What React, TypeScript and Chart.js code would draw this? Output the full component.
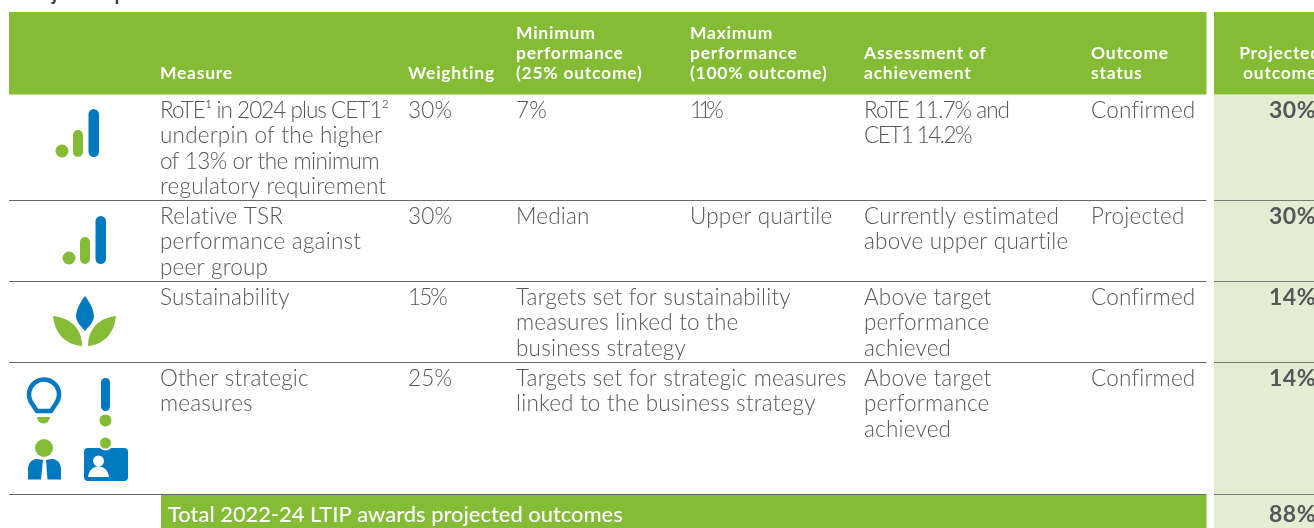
import React, { useEffect, useRef } from "react";
import { Chart, registerables } from "chart.js";

Chart.register(...registerables);

const title = "Projected performance outcome";
const headers = [
  ["Measure"],
  ["Weighting"],
  ["Minimum", "performance", "(25% outcome)"],
  ["Maximum", "performance", "(100% outcome)"],
  ["Assessment of", "achievement"],
  ["Outcome", "status"],
];
const outcomeHeader = ["Projected", "outcome"];
const measures = [
  ["RoTE¹ in 2024 plus CET1²", "underpin of the higher", "of 13% or the minimum", "regulatory requirement"],
  ["Relative TSR", "performance against", "peer group"],
  ["Sustainability"],
  ["Other strategic", "measures"],
];
const weightings = ["30%", "30%", "15%", "25%"];
const minimums = [["7%"], ["Median"], ["Targets set for sustainability", "measures linked to the", "business strategy"], ["Targets set for strategic measures", "linked to the business strategy"]];
const maximums = [["11%"], ["Upper quartile"], [], []];
const assessments = [
  ["RoTE 11.7% and", "CET1 14.2%"],
  ["Currently estimated", "above upper quartile"],
  ["Above target", "performance", "achieved"],
  ["Above target", "performance", "achieved"],
];
const statuses = ["Confirmed", "Projected", "Confirmed", "Confirmed"];
const outcomes = ["30%", "30%", "14%", "14%"];
const totalLabel = "Total 2022-24 LTIP awards projected outcomes";
const totalOutcome = "88%";

const GREEN = "#84bd35";
const BLUE = "#0079c1";
const PALE = "#e3edd2";
const GREY = "#53585b";
const FONT = "Lato";

const colX = [160, 408, 516, 690, 864, 1091];
const bodyBase = [117.5, 223.5, 304.5, 385.5];
const tableRight = 1206.5;
const fitWidth: Record<string, number> = {
  "RoTE¹ in 2024 plus CET1²": 228,
  "of 13% or the minimum": 219,
  "RoTE 11.7% and": 145,
  "CET1 14.2%": 107,
  "11%": 29,
  "15%": 38,
};

const tablePlugin = {
  id: "table",
  beforeDraw(chart: any) {
    const c: CanvasRenderingContext2D = chart.ctx;
    const X = (v: number) => chart.scales.x.getPixelForValue(v);
    const Y = (v: number) => chart.scales.y.getPixelForValue(v);
    const rect = (x0: number, y0: number, x1: number, y1: number, col: string) => {
      c.fillStyle = col;
      c.fillRect(X(x0), Y(y0), X(x1) - X(x0), Y(y1) - Y(y0));
    };
    const text = (s: string, x: number, y: number, font: string, col: string, align: CanvasTextAlign = "left", sp = "0px") => {
      c.font = font;
      c.fillStyle = col;
      c.textAlign = align;
      c.textBaseline = "alphabetic";
      (c as any).letterSpacing = "0px";
      let spacing = sp;
      if (fitWidth[s]) {
        spacing = (fitWidth[s] - c.measureText(s).width) / s.length + "px";
      }
      (c as any).letterSpacing = spacing;
      c.fillText(s, X(x), Y(y));
    };
    const pill = (x: number, y0: number, y1: number, w: number, col: string) => {
      c.fillStyle = col;
      c.beginPath();
      c.roundRect(X(x), Y(y0), w, Y(y1) - Y(y0), w / 2);
      c.fill();
    };
    const dot = (x: number, y: number, r: number, col: string) => {
      c.fillStyle = col;
      c.beginPath();
      c.arc(X(x), Y(y), r, 0, Math.PI * 2);
      c.fill();
    };
    const signal = (dx: number, dy: number) => {
      dot(62 + dx, 151 + dy, 6.5, GREEN);
      pill(73 + dx, 130 + dy, 157 + dy, 10, GREEN);
      pill(88.5 + dx, 109 + dy, 157 + dy, 10.5, BLUE);
    };

    rect(0, 0, 1314, 528, "#ffffff");
    const hf = `700 17.5px ${FONT}`;
    text(title, 20, 0, `700 20px ${FONT}`, "#3d4245", "left", "0.4px");
    rect(9, 12, tableRight, 94.5, GREEN);
    rect(1214, 12, 1314, 94.5, GREEN);
    rect(1214, 95, 1314, 528, PALE);
    rect(161, 495, tableRight, 528, GREEN);

    [200, 281, 362, 494].forEach((y) => {
      rect(9, y, tableRight, y + 1, "#666a6c");
      rect(1214, y, 1314, y + 1, "#777b72");
    });

    headers.forEach((lines, i) => {
      lines.forEach((s, k) => text(s, colX[i], 78.5 - (lines.length - 1 - k) * 20, hf, "#ffffff", "left", "0.75px"));
    });
    outcomeHeader.forEach((s, k) => text(s, 1280, 58.5 + k * 20, hf, "#ffffff", "center", "0.75px"));

    const bf = `300 22.5px ${FONT}`;
    const drawLines = (ls: string[], x: number, y: number) =>
      ls.forEach((s, k) => text(s, x, y + k * 25.5, bf, GREY, "left", "0.2px"));
    measures.forEach((ls, r) => drawLines(ls, colX[0], bodyBase[r]));
    weightings.forEach((s, r) => drawLines([s], colX[1], bodyBase[r]));
    minimums.forEach((ls, r) => drawLines(ls, colX[2], bodyBase[r]));
    maximums.forEach((ls, r) => drawLines(ls, colX[3], bodyBase[r]));
    assessments.forEach((ls, r) => drawLines(ls, colX[4], bodyBase[r]));
    statuses.forEach((s, r) => drawLines([s], colX[5], bodyBase[r]));
    outcomes.forEach((s, r) => text(s, 1269, bodyBase[r], `700 23px ${FONT}`, GREY, "left", "0.5px"));
    text(totalLabel, 168, 522, `500 21.9px ${FONT}`, "#ffffff");
    text(totalOutcome, 1269, 522, `700 23px ${FONT}`, GREY, "left", "0.5px");

    signal(0, 0);
    signal(7, 107);

    // leaves
    c.fillStyle = BLUE;
    c.beginPath();
    c.moveTo(X(85), Y(296));
    c.bezierCurveTo(X(78), Y(305), X(76), Y(312), X(76), Y(317));
    c.bezierCurveTo(X(77), Y(323), X(81), Y(326), X(85), Y(331));
    c.bezierCurveTo(X(89), Y(326), X(93), Y(323), X(94), Y(317));
    c.bezierCurveTo(X(94), Y(312), X(92), Y(305), X(85), Y(296));
    c.fill();
    c.fillStyle = GREEN;
    c.beginPath();
    c.moveTo(X(53), Y(316));
    c.bezierCurveTo(X(55), Y(336), X(68), Y(345), X(82), Y(346));
    c.bezierCurveTo(X(82), Y(330), X(72), Y(318), X(53), Y(316));
    c.fill();
    c.beginPath();
    c.moveTo(X(116), Y(316));
    c.bezierCurveTo(X(114), Y(336), X(101), Y(345), X(88), Y(346));
    c.bezierCurveTo(X(88), Y(330), X(98), Y(318), X(116), Y(316));
    c.fill();

    // bulb
    c.strokeStyle = BLUE;
    c.lineWidth = 4.5;
    c.lineJoin = "miter";
    c.beginPath();
    c.arc(X(44), Y(394.5), 15, Math.PI * 0.8, Math.PI * 0.2);
    c.lineTo(X(51), Y(411));
    c.lineTo(X(37), Y(411));
    c.closePath();
    c.stroke();
    c.fillStyle = GREEN;
    c.beginPath();
    c.arc(X(43.5), Y(417), 6.5, 0, Math.PI);
    c.fill();

    // exclamation
    pill(101, 378, 411, 9, BLUE);
    dot(105.5, 420.5, 6, GREEN);

    // person
    dot(44, 448, 9, GREEN);
    c.fillStyle = BLUE;
    c.beginPath();
    c.moveTo(X(37), Y(459));
    c.bezierCurveTo(X(31), Y(459), X(28), Y(464), X(28), Y(470));
    c.lineTo(X(28), Y(479.5));
    c.lineTo(X(41), Y(479.5));
    c.lineTo(X(43), Y(460));
    c.closePath();
    c.fill();
    c.beginPath();
    c.moveTo(X(52), Y(459));
    c.bezierCurveTo(X(58), Y(459), X(61), Y(464), X(61), Y(470));
    c.lineTo(X(61), Y(479.5));
    c.lineTo(X(47.5), Y(479.5));
    c.lineTo(X(46), Y(460));
    c.closePath();
    c.fill();

    // id card
    c.fillStyle = BLUE;
    c.beginPath();
    c.roundRect(X(84), Y(448), 44, 33, 4);
    c.fill();
    dot(105.5, 443, 7.5, "#ffffff");
    dot(105.5, 443, 5.5, GREEN);
    dot(98.5, 461, 5.5, "#ffffff");
    c.fillStyle = "#ffffff";
    c.beginPath();
    c.moveTo(X(88), Y(477));
    c.bezierCurveTo(X(89), Y(470), X(93), Y(466.5), X(98.5), Y(466.5));
    c.bezierCurveTo(X(104), Y(466.5), X(108), Y(470), X(109), Y(477));
    c.closePath();
    c.fill();
  },
};

export default function App() {
  const ref = useRef<HTMLCanvasElement>(null);
  useEffect(() => {
    const chart = new Chart(ref.current!, {
      type: "scatter",
      data: { datasets: [{ data: [], pointRadius: 0 }] },
      options: {
        animation: false,
        responsive: false,
        layout: { padding: 0 },
        plugins: { legend: { display: false }, tooltip: { enabled: false } },
        scales: {
          x: { type: "linear", min: 0, max: 1314, display: false },
          y: { type: "linear", min: 0, max: 528, reverse: true, display: false },
        },
      },
      plugins: [tablePlugin],
    } as any);
    return () => chart.destroy();
  }, []);
  return (
    <canvas
      ref={ref}
      width={1314}
      height={528}
      style={{ position: "fixed", left: 0, top: 0, width: 1314, height: 528, display: "block" }}
    />
  );
}
